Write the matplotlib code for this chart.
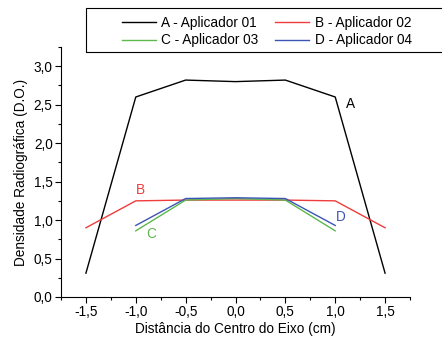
import matplotlib
matplotlib.use("Agg")
import matplotlib.pyplot as plt
from matplotlib.ticker import MultipleLocator, FuncFormatter
from matplotlib.patches import Rectangle

x_a = [-1.5, -1.0, -0.5, 0.0, 0.5, 1.0, 1.5]
a_vals = [0.31, 2.60, 2.82, 2.80, 2.82, 2.60, 0.31]
x_b = [-1.5, -1.0, -0.5, 0.0, 0.5, 1.0, 1.5]
b_vals = [0.90, 1.25, 1.26, 1.26, 1.26, 1.25, 0.90]
x_c = [-1.0, -0.5, 0.0, 0.5, 1.0]
c_vals = [0.86, 1.26, 1.28, 1.26, 0.86]
x_d = [-1.0, -0.5, 0.0, 0.5, 1.0]
d_vals = [0.93, 1.28, 1.29, 1.28, 0.93]
labels = ["A - Aplicador 01", "B - Aplicador 02", "C - Aplicador 03", "D - Aplicador 04"]
colors = ["#000000", "#f03c3c", "#5cb84c", "#3b55b5"]

plt.rcParams['font.family'] = ['Liberation Sans', 'DejaVu Sans']
fs = 9.8

fig = plt.figure(figsize=(4.42, 3.4), dpi=100)
ax = fig.add_axes([61/442, 1-297/340, (410-61)/442, (297-47)/340])

lines = []
for xs, ys, c, lab in zip([x_a, x_b, x_c, x_d], [a_vals, b_vals, c_vals, d_vals], colors, labels):
    l, = ax.plot(xs, ys, color=c, lw=1.0, label=lab)
    lines.append(l)

ax.set_xlim(-1.75, 1.75)
ax.set_ylim(0, 3.25)
ax.yaxis.set_major_locator(MultipleLocator(0.5))
ax.yaxis.set_minor_locator(MultipleLocator(0.25))
fmt = FuncFormatter(lambda v, p: f"{v:.1f}".replace(".", ",").replace("-0,0", "0,0"))
ax.xaxis.set_major_formatter(fmt)
ax.yaxis.set_major_formatter(fmt)
ax.set_xticks([-1.5, -1.0, -0.5, 0.0, 0.5, 1.0, 1.5])
ax.set_xticks([-1.75, -1.25, -0.75, -0.25, 0.25, 0.75, 1.25, 1.75], minor=True)
ax.tick_params(which='major', direction='out', length=4, width=0.8, labelsize=fs, pad=2)
ax.tick_params(which='minor', direction='out', length=2.5, width=0.8)
for s in ['top', 'right']:
    ax.spines[s].set_visible(False)
for s in ['left', 'bottom']:
    ax.spines[s].set_linewidth(0.8)

ax.set_xlabel("Distância do Centro do Eixo (cm)", fontsize=fs, labelpad=2)
ax.set_ylabel("Densidade Radiográfica (D.O.)", fontsize=fs, labelpad=4)

ax.text(1.15, 2.51, "A", color=colors[0], fontsize=fs, ha='center', va='center')
ax.text(-0.95, 1.39, "B", color=colors[1], fontsize=fs, ha='center', va='center')
ax.text(-0.85, 0.82, "C", color=colors[2], fontsize=fs, ha='center', va='center')
ax.text(1.06, 1.04, "D", color=colors[3], fontsize=fs, ha='center', va='center')

fig.patches.append(Rectangle((86/442, 1-52/340), 400/442, 44/340, transform=fig.transFigure,
                             fill=False, edgecolor='black', lw=0.8, clip_on=False))
order = [0, 2, 1, 3]
leg = fig.legend(handles=[lines[i] for i in order], labels=[labels[i] for i in order],
                 ncol=2, frameon=False, fontsize=fs,
                 loc='upper left', bbox_to_anchor=(122/442, 1-16/340),
                 borderaxespad=0, borderpad=0, handlelength=2.5, handletextpad=0.4,
                 columnspacing=1.2, labelspacing=0.25)

fig.savefig("out.png", dpi=100)
